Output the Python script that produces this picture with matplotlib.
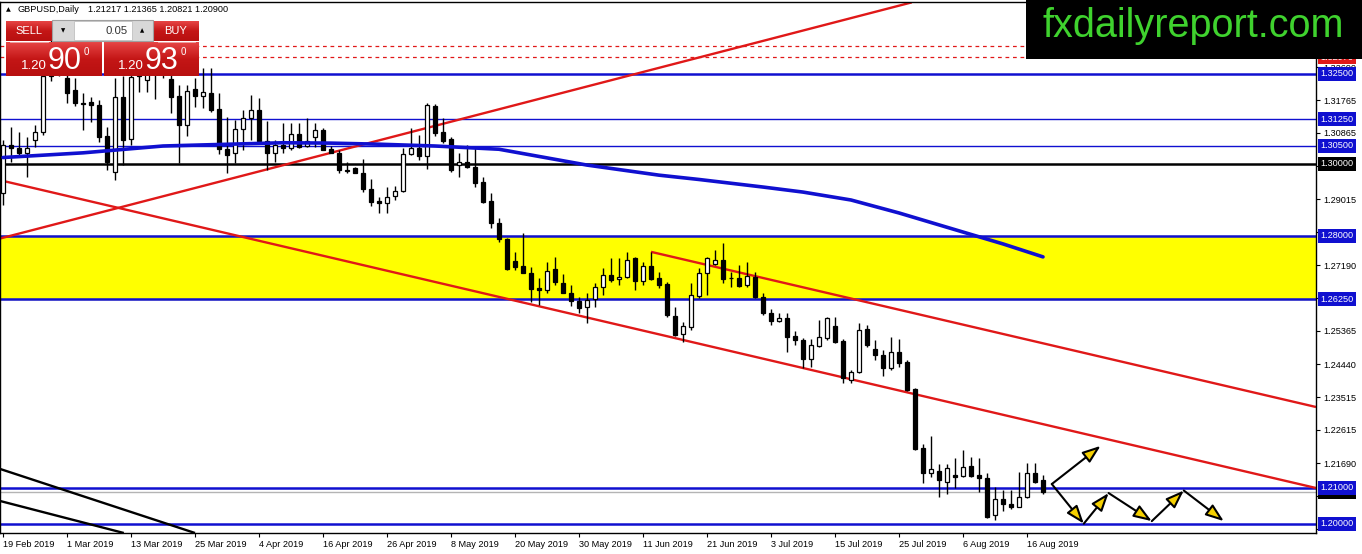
import numpy as np
import matplotlib
matplotlib.use("Agg")
import matplotlib.pyplot as plt
from matplotlib.patches import Rectangle, FancyArrowPatch

plt.rcParams["font.family"] = ["Liberation Sans", "DejaVu Sans"]

# ---- GBPUSD daily bars, 19 Feb 2019 .. 20 Aug 2019 ----
opens = [1.2920, 1.3053, 1.3045, 1.3031, 1.3067, 1.3089, 1.3245, 1.3283, 1.3239, 1.3206,
         1.3170, 1.3172, 1.3164, 1.3078, 1.2978, 1.3186, 1.3070, 1.3289, 1.3233, 1.3256,
         1.3261, 1.3236, 1.3189, 1.3108, 1.3208, 1.3189, 1.3197, 1.3153, 1.3042, 1.3031,
         1.3097, 1.3128, 1.3150, 1.3064, 1.3031, 1.3053, 1.3045, 1.3083, 1.3050, 1.3075,
         1.3095, 1.3042, 1.3031, 1.2983, 1.2989, 1.2975, 1.2931, 1.2897, 1.2892, 1.2911,
         1.2925, 1.3028, 1.3045, 1.3022, 1.3161, 1.3089, 1.3070, 1.2997, 1.3006, 1.2992,
         1.2950, 1.2897, 1.2836, 1.2792, 1.2731, 1.2717, 1.2697, 1.2656, 1.2650, 1.2708,
         1.2670, 1.2642, 1.2620, 1.2603, 1.2625, 1.2658, 1.2692, 1.2681, 1.2686, 1.2739,
         1.2675, 1.2717, 1.2683, 1.2667, 1.2578, 1.2528, 1.2547, 1.2633, 1.2697, 1.2722,
         1.2733, 1.2683, 1.2683, 1.2664, 1.2686, 1.2631, 1.2586, 1.2564, 1.2572, 1.2522,
         1.2511, 1.2458, 1.2495, 1.2517, 1.2550, 1.2508, 1.2400, 1.2422, 1.2542, 1.2486,
         1.2470, 1.2433, 1.2478, 1.2450, 1.2375, 1.2211, 1.2142, 1.2147, 1.2117, 1.2136,
         1.2133, 1.2161, 1.2136, 1.2128, 1.2025, 1.2070, 1.2056, 1.2047, 1.2075, 1.2142,
         1.21217]
highs = [1.3067, 1.3103, 1.3089, 1.3075, 1.3108, 1.3261, 1.3345, 1.3303, 1.3256, 1.3239,
         1.3197, 1.3186, 1.3178, 1.3103, 1.3239, 1.3245, 1.3381, 1.3330, 1.3289, 1.3283,
         1.3289, 1.3289, 1.3220, 1.3220, 1.3239, 1.3267, 1.3267, 1.3197, 1.3131, 1.3122,
         1.3150, 1.3192, 1.3183, 1.3120, 1.3067, 1.3114, 1.3114, 1.3114, 1.3128, 1.3114,
         1.3100, 1.3050, 1.3039, 1.3006, 1.2992, 1.3014, 1.2958, 1.2908, 1.2936, 1.2939,
         1.3045, 1.3100, 1.3081, 1.3170, 1.3167, 1.3128, 1.3075, 1.3031, 1.3053, 1.3047,
         1.2964, 1.2920, 1.2850, 1.2795, 1.2756, 1.2808, 1.2714, 1.2683, 1.2728, 1.2742,
         1.2695, 1.2664, 1.2631, 1.2642, 1.2670, 1.2711, 1.2739, 1.2739, 1.2756, 1.2742,
         1.2728, 1.2756, 1.2700, 1.2672, 1.2603, 1.2561, 1.2670, 1.2711, 1.2742, 1.2761,
         1.2781, 1.2700, 1.2720, 1.2728, 1.2700, 1.2642, 1.2597, 1.2586, 1.2586, 1.2536,
         1.2517, 1.2514, 1.2567, 1.2575, 1.2575, 1.2514, 1.2428, 1.2558, 1.2553, 1.2511,
         1.2483, 1.2520, 1.2514, 1.2456, 1.2378, 1.2222, 1.2245, 1.2167, 1.2167, 1.2183,
         1.2206, 1.2186, 1.2183, 1.2142, 1.2103, 1.2095, 1.2095, 1.2145, 1.2170, 1.2170,
         1.21365]
lows = [1.2886, 1.3006, 1.3020, 1.2964, 1.3047, 1.3081, 1.3231, 1.3245, 1.3170, 1.3161,
        1.3095, 1.3117, 1.3061, 1.2983, 1.2956, 1.2997, 1.3053, 1.3200, 1.3200, 1.3181,
        1.3239, 1.3142, 1.3003, 1.3078, 1.3158, 1.3156, 1.3144, 1.3028, 1.2975, 1.3003,
        1.3039, 1.3067, 1.3061, 1.2983, 1.3006, 1.3031, 1.3039, 1.3045, 1.3047, 1.3047,
        1.3039, 1.3031, 1.2975, 1.2975, 1.2975, 1.2922, 1.2883, 1.2864, 1.2864, 1.2900,
        1.2922, 1.3025, 1.3011, 1.2986, 1.3078, 1.3058, 1.2978, 1.2964, 1.2989, 1.2936,
        1.2892, 1.2822, 1.2783, 1.2706, 1.2706, 1.2697, 1.2617, 1.2608, 1.2642, 1.2664,
        1.2642, 1.2606, 1.2586, 1.2558, 1.2603, 1.2636, 1.2672, 1.2664, 1.2683, 1.2650,
        1.2664, 1.2678, 1.2656, 1.2575, 1.2522, 1.2506, 1.2539, 1.2628, 1.2636, 1.2720,
        1.2670, 1.2658, 1.2658, 1.2658, 1.2628, 1.2581, 1.2553, 1.2561, 1.2478, 1.2497,
        1.2433, 1.2436, 1.2492, 1.2511, 1.2503, 1.2392, 1.2392, 1.2420, 1.2492, 1.2456,
        1.2411, 1.2428, 1.2436, 1.2370, 1.2206, 1.2114, 1.2131, 1.2075, 1.2083, 1.2100,
        1.2131, 1.2131, 1.2089, 1.2017, 1.2011, 1.2036, 1.2042, 1.2047, 1.2072, 1.2114,
        1.20821]
closes = [1.3053, 1.3045, 1.3031, 1.3045, 1.3089, 1.3245, 1.3283, 1.3256, 1.3197, 1.3170,
          1.3167, 1.3164, 1.3075, 1.3006, 1.3186, 1.3067, 1.3242, 1.3245, 1.3256, 1.3261,
          1.3250, 1.3186, 1.3108, 1.3203, 1.3189, 1.3200, 1.3150, 1.3042, 1.3025, 1.3097,
          1.3128, 1.3150, 1.3064, 1.3031, 1.3053, 1.3045, 1.3083, 1.3047, 1.3064, 1.3095,
          1.3039, 1.3031, 1.2983, 1.2981, 1.2975, 1.2931, 1.2895, 1.2892, 1.2908, 1.2925,
          1.3028, 1.3045, 1.3022, 1.3164, 1.3086, 1.3064, 1.2983, 1.3006, 1.2992, 1.2947,
          1.2895, 1.2836, 1.2792, 1.2708, 1.2714, 1.2697, 1.2653, 1.2650, 1.2703, 1.2672,
          1.2642, 1.2620, 1.2600, 1.2622, 1.2658, 1.2692, 1.2678, 1.2686, 1.2733, 1.2675,
          1.2717, 1.2681, 1.2664, 1.2581, 1.2525, 1.2550, 1.2636, 1.2697, 1.2739, 1.2733,
          1.2681, 1.2682, 1.2661, 1.2689, 1.2631, 1.2586, 1.2564, 1.2572, 1.2520, 1.2511,
          1.2458, 1.2497, 1.2520, 1.2572, 1.2506, 1.2406, 1.2422, 1.2539, 1.2497, 1.2470,
          1.2433, 1.2478, 1.2447, 1.2372, 1.2208, 1.2142, 1.2153, 1.2122, 1.2156, 1.2131,
          1.2158, 1.2133, 1.2128, 1.2020, 1.2070, 1.2056, 1.2047, 1.2075, 1.2142, 1.2117,
          1.20900]

# moving average (blue), vertices at bar index
ma_bars = [0, 10, 20, 30, 35, 41, 47, 54, 62, 73, 82, 87, 95, 100, 106, 112, 120, 125, 130]
ma_values = [1.3018, 1.3031, 1.3050, 1.3056, 1.3059, 1.3058, 1.3055, 1.3050, 1.3041, 1.2997,
             1.2969, 1.2957, 1.2936, 1.2922, 1.2900, 1.2864, 1.2811, 1.2778, 1.2742]

date_ticks = [0, 8, 16, 24, 32, 40, 48, 56, 64, 72, 80, 88, 96, 104, 112, 120, 128]
date_labels = ["19 Feb 2019", "1 Mar 2019", "13 Mar 2019", "25 Mar 2019", "4 Apr 2019",
               "16 Apr 2019", "26 Apr 2019", "8 May 2019", "20 May 2019", "30 May 2019",
               "11 Jun 2019", "21 Jun 2019", "3 Jul 2019", "15 Jul 2019", "25 Jul 2019",
               "6 Aug 2019", "16 Aug 2019"]

# scale ticks; the ones fully hidden behind level boxes carry no text
price_ticks = [1.32690, 1.31765, 1.30865, 1.29940, 1.29015, 1.28115, 1.27190,
               1.26290, 1.25365, 1.24440, 1.23515, 1.22615, 1.21690, 1.20765, 1.19865]
hidden_ticks = [1.29940, 1.28115, 1.26290, 1.20765, 1.19865]

blue_levels = [1.3250, 1.3125, 1.3050, 1.2800, 1.2625, 1.2100, 1.2000]
black_level = 1.3000
zone = (1.2625, 1.2800)
dashed_levels = [1.3328, 1.3297]
bid = 1.2090

# trend lines: (bar, price) endpoints
rising_line = ([-0.375, 113.6], [1.2793, 1.3449])
channel_low = ([-0.375, 164.125], [1.2955, 1.2100])
channel_high = ([81, 164.125], [1.2756, 1.2325])
black_line_a = ([-0.375, 24.0], [1.2153, 1.1975])
black_line_b = ([-0.375, 15.1], [1.2064, 1.1975])

# projected path arrows
up_arrow = ([131.1, 137.2], [1.2111, 1.2217])
zigzag_bars = [131.1, 135.1, 138.2, 143.6, 147.6, 152.6]
zigzag_prices = [1.2111, 1.2001, 1.2086, 1.2008, 1.2093, 1.2008]

BLUE = "#1010d0"
RED = "#e01818"

fig = plt.figure(figsize=(13.62, 5.54), dpi=100)
ax = fig.add_axes([0, 21 / 554, 1316 / 1362, 531 / 554])
ax.set_xlim(-0.375, 164.125)
ax.set_ylim(1.1975, 1.345)

# levels and zone
ax.axhspan(zone[0], zone[1], color="#ffff00", zorder=0)
for lv in blue_levels:
    thin = lv in (1.3125, 1.3050)
    ax.axhline(lv, color=BLUE, lw=1.0 if thin else 1.8, zorder=1)
ax.axhline(black_level, color="black", lw=1.8, zorder=1)
for lv in dashed_levels:
    ax.axhline(lv, color=RED, lw=0.9, ls=(0, (3, 3)), zorder=1)
ax.axhline(bid, color="#b4b4b4", lw=1.0, zorder=1)

# trend lines
for xs, ys, c in [(rising_line[0], rising_line[1], RED),
                  (channel_low[0], channel_low[1], RED),
                  (channel_high[0], channel_high[1], RED),
                  (black_line_a[0], black_line_a[1], "black"),
                  (black_line_b[0], black_line_b[1], "black")]:
    ax.plot(xs, ys, color=c, lw=1.7, zorder=2, solid_capstyle="butt")

# candles
x = np.arange(len(opens))
o = np.array(opens)
c = np.array(closes)
ax.vlines(x, lows, highs, color="black", lw=1.0, zorder=3)
up = c >= o
body_h = np.maximum(np.abs(c - o), 0.00012)
body_b = np.minimum(o, c)
ax.bar(x[up], body_h[up], bottom=body_b[up], width=0.62, color="white",
       edgecolor="black", linewidth=0.9, zorder=4)
ax.bar(x[~up], body_h[~up], bottom=body_b[~up], width=0.62, color="black",
       edgecolor="black", linewidth=0.9, zorder=4)

# moving average
ax.plot(ma_bars, ma_values, color=BLUE, lw=2.6, zorder=5, solid_capstyle="round")

# projection arrows
head = "-|>,head_length=0.55,head_width=0.2"
arrow_kw = dict(arrowstyle=head, mutation_scale=20, fc="#f5d000", ec="black",
                lw=1.5, shrinkA=0, shrinkB=0, zorder=6)
ax.add_patch(FancyArrowPatch((up_arrow[0][0], up_arrow[1][0]),
                             (up_arrow[0][1], up_arrow[1][1]), **arrow_kw))
for k in range(len(zigzag_bars) - 1):
    ax.add_patch(FancyArrowPatch((zigzag_bars[k], zigzag_prices[k]),
                                 (zigzag_bars[k + 1], zigzag_prices[k + 1]), **arrow_kw))

# axes styling
for s in ax.spines.values():
    s.set_color("black")
    s.set_linewidth(1.0)
ax.set_xticks(date_ticks)
ax.set_xticklabels(date_labels, fontsize=6.6, ha="left")
ax.tick_params(axis="x", length=3, pad=2, width=0.8)
ax.yaxis.tick_right()
ax.set_yticks(price_ticks)
ax.set_yticklabels(["" if p in hidden_ticks else f"{p:.5f}" for p in price_ticks], fontsize=6.6)
ax.tick_params(axis="y", length=3, pad=2, width=0.8)

# highlighted price labels on the right scale
box_values = [1.3297, 1.3250, 1.3125, 1.3050, 1.3000, 1.2800, 1.2625, 1.2090, 1.2100, 1.2000]
box_colors = ["#e01818", BLUE, BLUE, BLUE, "black", BLUE, BLUE, "black", BLUE, BLUE]
for v, fc in zip(box_values, box_colors):
    ax.text(1.0035, v, f"{v:.5f}", transform=ax.get_yaxis_transform(), ha="left",
            va="center", fontsize=6.6, color="white", clip_on=False, zorder=10,
            bbox=dict(boxstyle="square,pad=0.28", fc=fc, ec="none"))

# overlay in pixel coordinates: header, trade panel, logo
ov = fig.add_axes([0, 0, 1, 1], zorder=20)
ov.set_xlim(0, 1362)
ov.set_ylim(554, 0)
ov.axis("off")
ov.patch.set_alpha(0)

ov.text(6, 10, "\u25b2", fontsize=4.5, family="DejaVu Sans", va="center")
ov.text(18, 10, "GBPUSD,Daily", fontsize=6.6, va="center")
ov.text(88, 10, "1.21217 1.21365 1.20821 1.20900", fontsize=6.6, va="center")


def red_box(x0, y0, w, h):
    grad = np.linspace(0, 1, 32).reshape(-1, 1)
    cmap = matplotlib.colors.LinearSegmentedColormap.from_list("r", ["#e64444", "#c41616", "#b81010"])
    ov.imshow(grad, extent=(x0, x0 + w, y0 + h, y0), cmap=cmap, aspect="auto", zorder=1)


red_box(6, 21, 46, 20)
red_box(154, 21, 45, 20)
red_box(6, 42, 96, 34)
red_box(104, 42, 95, 34)
ov.add_patch(Rectangle((52, 20), 101, 21, fc="#d8d8d8", ec="#a0a0a0", lw=0.8, zorder=2))
ov.add_patch(Rectangle((74, 21), 58, 19, fc="white", ec="#c0c0c0", lw=0.6, zorder=3))
ov.text(63, 30.5, "\u25bc", fontsize=4, family="DejaVu Sans", ha="center", va="center", zorder=4)
ov.text(142, 30.5, "\u25b2", fontsize=4, family="DejaVu Sans", ha="center", va="center", zorder=4)
ov.text(128, 30.5, "0.05", fontsize=8.2, ha="right", va="center", color="#333333", zorder=4)
ov.text(29, 31, "SELL", fontsize=8, ha="center", va="center", color="white", zorder=4)
ov.text(176, 31, "BUY", fontsize=8, ha="center", va="center", color="white", zorder=4)
ov.plot([10, 48], [41.5, 41.5], color="#f0b0b0", lw=0.6, zorder=4)
ov.plot([158, 195], [41.5, 41.5], color="#f0b0b0", lw=0.6, zorder=4)

for x0, small, big in [(21, "1.20", "90"), (118, "1.20", "93")]:
    ov.text(x0, 69, small, fontsize=9.5, color="white", va="baseline", zorder=4)
    ov.text(x0 + 27, 69, big, fontsize=22, color="white", va="baseline", zorder=4)
    ov.text(x0 + 63, 55, "0", fontsize=7, color="white", va="baseline", zorder=4)

# logo
ov.add_patch(Rectangle((1026, 0), 336, 58.5, fc="black", ec="none", zorder=5))
ov.text(1193, 37, "fxdailyreport.com", fontsize=28.5, color="#3fd22e",
        ha="center", va="baseline", zorder=6)

fig.savefig("out.png", dpi=100)
